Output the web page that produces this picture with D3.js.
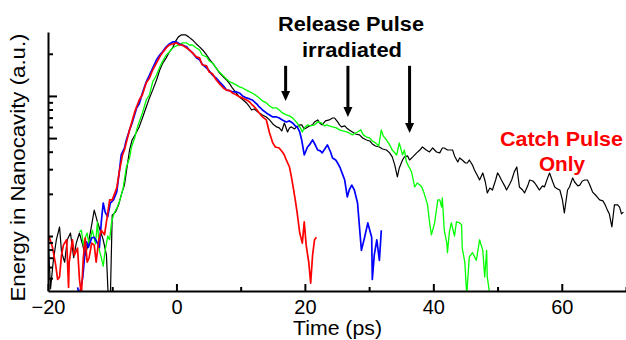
<!DOCTYPE html>
<html lang="en">
<head>
<meta charset="UTF-8">
<title>Energy in Nanocavity</title>
<style>
  body {
    margin: 0;
    background: #fff;
  }
  svg {
    display: block;
    font-family: "Liberation Sans", Arial, sans-serif;
  }
  .axis path, .axis line {
    stroke: #000;
    stroke-width: 2px;
  }
  .axis text {
    font-size: 20px;
    fill: #000;
  }
  .note {
    font-size: 20px;
    font-weight: bold;
    text-anchor: middle;
  }
</style>
</head>
<body>
<div id="chart"></div>
<script src="https://cdn.jsdelivr.net/npm/d3@7"></script>
<script>
  // axis setup (energy is arbitrary units, log scale)
  var timeDomain = [-20, 70];
  var energyDomain = [0.405, 28.6];
  var xMajorTicks = [-20, 0, 20, 40, 60];
  var xMinorTicks = [-10, 10, 30, 50, 70];
  var yShortTicks = [0.5, 0.6, 0.7, 0.8, 0.9, 1, 2, 3, 4, 6, 7, 8, 9, 20];
  var yLongTicks = [5, 10];

  // release pulse arrows: time, tip energy
  var arrowTimes = [17.0, 26.7, 36.3];
  var arrowTips = [9.21, 7.08, 5.44];
  var arrowTop = 16.4;

  // [time (ps), energy (a.u.)]
  var catchOnly = [[-19.9,0.79],[-19.6,0.42],[-19.2,0.65],[-18.7,0.94],[-18.2,1.16],[-17.9,0.77],[-17.4,0.65],[-17.0,0.94],[-16.5,1.05],[-16.0,0.70],[-15.6,0.89],[-15.1,1.05],[-14.6,0.86],[-14.2,0.73],[-13.7,0.89],[-13.2,1.20],[-12.8,1.53],[-12.3,1.26],[-11.8,1.07],[-11.4,0.94],[-10.9,0.73],[-10.6,0.35],[-10.3,0.35],[-10.0,1.41],[-9.5,1.48],[-9.0,1.67],[-8.6,1.96],[-8.1,2.31],[-7.8,2.87],[-7.3,4.11],[-6.9,4.85],[-6.2,5.53],[-5.8,6.01],[-5.3,6.96],[-4.7,8.34],[-4.2,9.68],[-3.7,11.0],[-3.1,13.0],[-2.6,15.3],[-2.2,16.9],[-1.6,18.7],[-1.1,20.6],[-0.6,22.0],[-0.2,24.3],[0.3,26.4],[0.8,27.3],[1.4,27.3],[1.9,26.4],[2.5,25.1],[3.1,23.5],[3.6,22.4],[4.2,21.0],[4.7,19.6],[5.1,18.4],[5.6,17.2],[6.2,15.8],[6.7,14.6],[7.3,13.7],[7.8,13.0],[8.3,12.2],[8.7,11.4],[9.3,10.5],[9.8,9.84],[10.4,9.36],[10.9,8.91],[11.4,8.34],[11.7,7.94],[12.1,8.07],[12.5,7.81],[12.9,7.56],[13.4,7.32],[14.0,7.08],[14.5,6.74],[15.0,6.31],[15.6,6.01],[16.0,5.91],[16.4,5.62],[16.8,6.41],[17.3,5.53],[17.6,5.91],[17.9,6.01],[18.4,5.81],[18.7,6.01],[19.2,6.21],[19.5,6.21],[19.9,5.81],[20.2,5.91],[20.7,6.11],[21.2,6.21],[21.5,6.52],[22.0,6.74],[22.3,6.41],[22.7,6.21],[23.2,6.63],[23.8,6.74],[24.3,6.96],[24.6,6.96],[25.1,6.52],[25.4,6.21],[25.7,6.01],[26.2,6.11],[26.5,5.91],[26.9,5.72],[27.4,5.53],[27.9,5.35],[28.5,5.27],[29.0,5.01],[29.6,4.85],[30.1,4.77],[30.5,4.54],[31.0,4.39],[31.6,4.32],[32.1,4.18],[32.7,4.11],[33.2,3.92],[33.6,3.67],[34.0,3.21],[34.4,2.64],[34.7,3.06],[35.2,3.49],[35.5,3.67],[36.0,3.73],[36.3,3.49],[36.8,3.67],[37.4,3.92],[37.9,4.11],[38.3,4.32],[38.9,4.11],[39.4,3.98],[39.9,4.25],[40.5,3.98],[41.0,3.92],[41.4,4.25],[41.7,4.25],[42.2,4.11],[42.5,4.11],[43.0,4.11],[43.3,3.73],[43.8,3.38],[44.1,3.61],[44.5,3.49],[45.0,3.32],[45.3,3.32],[45.6,3.49],[46.1,3.21],[46.4,2.96],[46.9,2.68],[47.2,2.51],[47.7,2.82],[48.1,2.43],[48.4,2.03],[48.8,2.20],[49.2,2.13],[49.7,2.51],[50.0,2.82],[50.3,2.68],[50.6,2.51],[51.1,2.28],[51.4,2.13],[51.9,2.35],[52.2,2.51],[52.6,2.87],[53.0,3.11],[53.4,2.24],[53.9,2.13],[54.2,2.03],[54.7,2.28],[55.0,2.51],[55.5,2.47],[55.8,2.39],[56.2,2.24],[56.5,2.13],[57.0,2.28],[57.3,2.24],[57.8,2.60],[58.1,2.82],[58.6,2.43],[58.9,2.24],[59.3,2.17],[59.7,2.13],[60.1,1.81],[60.4,1.46],[60.9,2.13],[61.2,2.24],[61.7,2.60],[62.0,2.43],[62.5,2.28],[62.8,2.31],[63.2,2.47],[63.6,2.51],[64.0,2.51],[64.3,2.35],[64.8,2.06],[65.4,1.93],[65.9,1.81],[66.4,1.78],[66.7,1.69],[67.1,1.53],[67.4,1.44],[67.8,1.16],[68.2,1.67],[68.7,1.67],[69.0,1.61],[69.3,1.44],[69.6,1.48]];

  var release17 = [[-20.1,1.02],[-19.8,0.98],[-19.3,0.83],[-18.8,0.62],[-18.5,0.49],[-18.2,0.51],[-17.9,0.73],[-17.6,0.86],[-17.1,0.94],[-16.8,0.43],[-16.7,0.65],[-16.2,0.94],[-15.9,0.73],[-15.4,0.82],[-15.1,0.49],[-14.8,0.38],[-14.5,0.70],[-14.2,0.97],[-13.9,0.65],[-13.6,0.70],[-13.2,0.89],[-12.8,0.86],[-12.5,0.65],[-12.1,0.94],[-11.7,1.10],[-11.2,1.02],[-10.9,1.26],[-10.4,1.81],[-10.0,1.81],[-9.3,2.20],[-8.9,2.87],[-8.4,3.79],[-8.1,4.11],[-7.3,5.72],[-6.5,7.69],[-5.8,9.36],[-5.3,10.2],[-4.7,12.4],[-4.2,13.4],[-3.7,15.3],[-3.1,17.2],[-2.6,19.0],[-2.2,20.3],[-1.6,22.0],[-1.1,23.1],[-0.6,23.5],[0.0,23.9],[0.5,23.1],[0.9,23.1],[1.6,22.0],[2.0,21.3],[2.5,20.3],[3.1,19.0],[3.6,18.7],[4.0,16.7],[4.7,16.4],[5.1,14.8],[5.6,14.4],[6.2,13.0],[6.7,12.2],[7.3,11.4],[7.8,11.0],[8.3,10.9],[8.7,10.5],[9.3,10.2],[9.8,9.84],[10.3,9.68],[10.9,9.36],[11.4,9.06],[11.8,8.62],[12.3,8.21],[12.9,7.56],[13.4,7.08],[14.0,6.74],[14.5,5.44],[15.0,4.62],[15.4,4.32],[16.0,4.25],[16.5,3.98],[16.8,3.79],[17.1,3.49],[17.6,3.11],[17.9,2.64],[18.2,2.20],[18.5,1.81],[18.8,1.46],[19.2,1.05],[19.6,0.89],[19.9,1.26],[20.2,0.86],[20.6,0.65],[20.9,0.46],[21.2,0.73],[21.5,0.94],[21.8,0.98]];

  var release27 = [[-15.4,0.43],[-15.1,0.38],[-14.6,0.50],[-14.3,0.71],[-14.0,0.91],[-13.7,0.83],[-13.2,0.97],[-12.8,0.98],[-12.3,0.89],[-12.0,0.83],[-11.7,1.26],[-11.4,1.72],[-11.1,1.48],[-10.7,1.37],[-10.3,1.72],[-9.8,1.81],[-9.3,2.06],[-8.9,2.87],[-8.6,3.79],[-8.1,4.25],[-7.8,4.85],[-7.3,5.72],[-6.9,6.41],[-6.2,8.21],[-5.8,8.77],[-5.3,10.5],[-4.7,12.6],[-4.2,14.1],[-3.7,15.8],[-3.1,18.1],[-2.6,19.6],[-2.2,20.6],[-1.6,22.4],[-1.1,23.5],[-0.6,24.3],[0.0,24.3],[0.5,23.5],[0.9,23.1],[1.6,22.4],[2.0,21.3],[2.5,20.3],[3.1,18.7],[3.6,18.1],[4.0,16.9],[4.7,15.8],[5.1,15.1],[5.6,14.1],[6.2,13.4],[6.7,12.6],[7.3,11.8],[7.8,11.0],[8.3,10.9],[8.7,10.7],[9.3,10.7],[9.8,10.5],[10.3,10.0],[10.9,9.68],[11.4,9.52],[11.8,9.36],[12.5,8.77],[12.9,8.34],[13.4,7.94],[14.0,7.56],[14.5,7.32],[15.0,7.08],[15.6,7.08],[16.0,6.96],[16.5,6.74],[17.1,6.52],[17.6,6.63],[18.1,6.41],[18.5,6.11],[18.8,6.01],[19.2,5.53],[19.5,4.85],[19.9,3.79],[20.4,4.32],[20.7,4.47],[21.2,4.85],[21.7,4.39],[22.0,4.11],[22.4,4.05],[22.7,3.92],[23.2,4.25],[23.5,4.47],[24.0,3.98],[24.3,3.61],[24.8,3.49],[25.1,3.32],[25.5,3.06],[25.9,2.73],[26.2,2.51],[26.6,1.90],[26.9,2.13],[27.3,2.31],[27.7,2.13],[28.2,1.72],[28.5,1.16],[28.8,0.79],[29.3,0.98],[29.8,1.24],[30.1,1.10],[30.4,0.98],[30.5,0.49],[30.8,0.73],[31.2,0.94],[31.6,0.67],[31.9,1.10]];

  var release36 = [[-15.1,1.07],[-14.8,1.10],[-14.5,0.86],[-14.2,0.97],[-13.9,1.05],[-13.6,0.86],[-13.1,1.10],[-12.6,0.88],[-12.3,1.26],[-12.0,0.79],[-11.7,0.70],[-11.4,0.61],[-11.1,0.79],[-10.7,1.00],[-10.4,0.94],[-10.1,1.26],[-9.7,1.46],[-9.2,1.61],[-8.7,1.87],[-8.3,2.20],[-7.8,3.11],[-7.3,3.61],[-7.0,4.32],[-6.5,5.01],[-6.2,5.72],[-5.8,6.52],[-5.3,7.56],[-4.7,9.36],[-4.2,10.2],[-3.7,12.6],[-3.1,14.1],[-2.6,16.1],[-2.2,17.5],[-1.6,19.6],[-1.1,20.6],[-0.6,22.0],[0.0,22.8],[0.5,23.1],[0.9,23.9],[1.6,23.9],[2.0,23.1],[2.5,23.1],[3.1,22.0],[3.6,21.3],[4.0,19.6],[4.7,19.0],[5.1,17.8],[5.6,17.2],[6.2,15.8],[6.7,14.8],[7.3,13.9],[7.8,13.2],[8.3,12.6],[8.7,12.4],[9.3,12.0],[9.8,11.6],[10.3,11.4],[10.9,11.0],[11.4,10.7],[11.8,10.5],[12.5,10.0],[12.9,9.68],[13.4,9.21],[14.0,8.91],[14.5,8.48],[15.0,8.21],[15.6,8.21],[16.0,7.94],[16.5,7.56],[17.1,7.32],[17.6,7.20],[18.1,6.96],[18.5,6.63],[18.8,6.41],[19.3,5.91],[19.6,5.53],[19.9,5.91],[20.4,6.21],[20.9,6.11],[21.5,6.21],[22.0,6.52],[22.6,6.41],[23.1,6.11],[23.4,6.21],[23.8,6.11],[24.3,6.01],[24.9,5.91],[25.4,5.72],[25.9,5.62],[26.5,5.53],[26.9,5.44],[27.4,5.27],[27.9,5.44],[28.2,5.53],[28.7,5.72],[29.1,5.27],[29.6,5.09],[30.1,5.01],[30.5,4.77],[31.0,4.62],[31.5,4.39],[31.9,5.72],[32.2,5.18],[32.7,4.85],[33.2,4.47],[33.6,4.11],[34.3,3.79],[34.7,4.62],[35.2,3.79],[35.5,4.11],[35.8,3.38],[36.3,3.06],[36.6,2.87],[37.1,2.24],[37.5,2.39],[37.9,2.31],[38.2,2.24],[38.6,2.00],[39.1,1.67],[39.4,1.26],[39.7,1.02],[40.2,1.24],[40.7,1.81],[41.0,1.81],[41.3,1.61],[41.4,1.87],[41.7,1.10],[42.1,0.89],[42.2,0.76],[42.5,1.07],[42.8,1.24],[43.3,1.00],[43.6,1.26],[44.1,1.24],[44.4,1.20],[44.5,0.82],[44.9,0.65],[45.2,0.38],[45.6,0.71],[46.1,0.76],[46.7,0.67],[47.2,0.94],[47.7,0.79],[48.0,0.51],[48.3,0.79],[48.4,0.51],[48.8,0.38]];

  var series = [
    {name: "catch", data: catchOnly, color: "#000000", width: 1.2},
    {name: "r36", data: release36, color: "#00ff00", width: 1.3},
    {name: "r27", data: release27, color: "#0000ff", width: 1.7},
    {name: "r17", data: release17, color: "#ff0000", width: 1.7}
  ];

  var width = 626,
      height = 340,
      plotLeft = 48, plotRight = 626, plotTop = 32, plotBottom = 291;

  var x = d3.scaleLinear().domain(timeDomain).range([plotLeft, plotRight]);
  var y = d3.scaleLog().domain(energyDomain).range([plotBottom, plotTop]);

  var svg = d3.select("#chart").append("svg")
      .attr("width", width)
      .attr("height", height);

  svg.append("clipPath")
      .attr("id", "plot-clip")
    .append("rect")
      .attr("x", plotLeft)
      .attr("y", plotTop - 6)
      .attr("width", plotRight - plotLeft)
      .attr("height", plotBottom - plotTop + 6);

  var line = d3.line()
      .x(function(d) { return x(d[0]); })
      .y(function(d) { return y(d[1]); });

  svg.append("g")
      .attr("clip-path", "url(#plot-clip)")
    .selectAll("path")
      .data(series)
    .enter().append("path")
      .attr("d", function(d) { return line(d.data); })
      .attr("fill", "none")
      .attr("stroke", function(d) { return d.color; })
      .attr("stroke-width", function(d) { return d.width; })
      .attr("stroke-linejoin", "round");

  // x axis: inward ticks
  svg.append("g")
      .attr("class", "axis")
      .attr("transform", "translate(0," + plotBottom + ")")
      .call(d3.axisBottom(x).tickValues(xMajorTicks).tickSizeInner(-7).tickSizeOuter(0).tickPadding(9)
        .tickFormat(function(d) { return d < 0 ? "\u2212" + Math.abs(d) : d; }));

  svg.append("g")
      .attr("class", "axis")
      .attr("transform", "translate(0," + plotBottom + ")")
      .call(d3.axisBottom(x).tickValues(xMinorTicks).tickSizeInner(-4).tickSizeOuter(0).tickFormat(""))
      .select(".domain").remove();

  // y axis: log, no labels
  svg.append("g")
      .attr("class", "axis")
      .attr("transform", "translate(" + plotLeft + ",0)")
      .call(d3.axisLeft(y).tickValues(yShortTicks).tickSizeInner(-5).tickSizeOuter(0).tickFormat(""));

  svg.append("g")
      .attr("class", "axis")
      .attr("transform", "translate(" + plotLeft + ",0)")
      .call(d3.axisLeft(y).tickValues(yLongTicks).tickSizeInner(-9).tickSizeOuter(0).tickFormat(""))
      .select(".domain").remove();

  svg.append("text")
      .attr("x", 337.5)
      .attr("y", 335)
      .attr("text-anchor", "middle")
      .attr("font-size", 20)
      .attr("textLength", 89)
      .attr("lengthAdjust", "spacingAndGlyphs")
      .text("Time (ps)");

  svg.append("text")
      .attr("transform", "translate(25,167.5) rotate(-90)")
      .attr("text-anchor", "middle")
      .attr("font-size", 20)
      .attr("textLength", 268)
      .attr("lengthAdjust", "spacingAndGlyphs")
      .text("Energy in Nanocavity (a.u.)");

  // annotations
  svg.append("text").attr("class", "note")
      .attr("x", 351).attr("y", 30.5)
      .attr("textLength", 146).attr("lengthAdjust", "spacingAndGlyphs")
      .text("Release Pulse");

  svg.append("text").attr("class", "note")
      .attr("x", 352).attr("y", 56.5)
      .attr("textLength", 100).attr("lengthAdjust", "spacingAndGlyphs")
      .text("irradiated");

  svg.append("text").attr("class", "note")
      .attr("x", 561.5).attr("y", 145.5)
      .attr("fill", "#ff0000")
      .attr("textLength", 123).attr("lengthAdjust", "spacingAndGlyphs")
      .text("Catch Pulse");

  svg.append("text").attr("class", "note")
      .attr("x", 562).attr("y", 171)
      .attr("fill", "#ff0000")
      .attr("textLength", 46).attr("lengthAdjust", "spacingAndGlyphs")
      .text("Only");

  var arrows = svg.append("g")
    .selectAll("g")
      .data(arrowTimes.map(function(t, i) { return {t: t, tip: arrowTips[i]}; }))
    .enter().append("g");

  arrows.append("line")
      .attr("x1", function(d) { return x(d.t); })
      .attr("x2", function(d) { return x(d.t); })
      .attr("y1", y(arrowTop))
      .attr("y2", function(d) { return y(d.tip) - 8; })
      .attr("stroke", "#000")
      .attr("stroke-width", 3);

  arrows.append("path")
      .attr("d", function(d) {
        var cx = x(d.t), ty = y(d.tip);
        return "M" + cx + "," + ty + "L" + (cx - 4.5) + "," + (ty - 10) + "L" + (cx + 4.5) + "," + (ty - 10) + "Z";
      })
      .attr("fill", "#000");
</script>
</body>
</html>
